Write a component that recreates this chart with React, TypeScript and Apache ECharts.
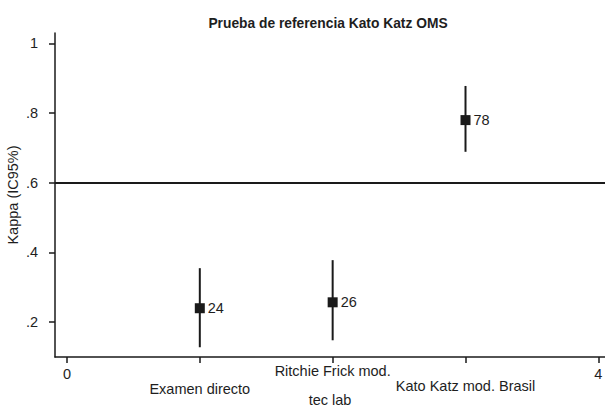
import React, { useEffect, useRef } from "react";
import * as echarts from "echarts";

const categories = ["Examen directo", "Ritchie Frick mod.", "Kato Katz mod. Brasil"];
const categoryPositions = [1, 2, 3];
const kappa = [0.24, 0.257, 0.78];
const ciLow = [0.128, 0.148, 0.689];
const ciHigh = [0.355, 0.378, 0.878];
const xTickValues = [0, 1, 2, 3, 4];
const xTickLabels = ["0", "Examen directo", "Ritchie Frick mod.", "Kato Katz mod. Brasil", "4"];
const yTickValues = [0.2, 0.4, 0.6, 0.8, 1];
const referenceValue = 0.6;

const INK = "#1a1a1a";
const TXT = "#1e1e1e";
const FONT = "Liberation Sans, Arial, sans-serif";

export default function App() {
  const ref = useRef<HTMLDivElement>(null);
  useEffect(() => {
    if (!ref.current) return;
    const chart = echarts.init(ref.current, undefined, { renderer: "svg" });
    const richKeys = ["t0", "t1", "t2", "t3", "t4"];
    const padTop = [3, 18, 0, 15, 3];
    const rich: any = {};
    richKeys.forEach((k, i) => {
      rich[k] = { fontSize: 14.5, color: TXT, fontFamily: FONT, padding: [padTop[i], 0, 0, 0] };
    });
    chart.setOption({
      animation: false,
      backgroundColor: "#ffffff",
      title: {
        text: "Prueba de referencia Kato Katz OMS",
        left: 323,
        top: 11,
        textAlign: "center",
        textStyle: { fontSize: 13.8, fontWeight: "bold", color: TXT, fontFamily: FONT },
      },
      grid: { left: 55, right: 0, top: 33, bottom: 52, containLabel: false, outerBoundsMode: "none" },
      xAxis: {
        type: "value",
        min: -0.09,
        max: 4.05,
        name: "tec lab",
        nameLocation: "middle",
        nameGap: 35,
        nameMoveOverlap: false,
        nameTextStyle: { fontSize: 14.5, color: TXT, fontFamily: FONT },
        axisLine: { show: true, onZero: false, lineStyle: { color: INK, width: 1.5 } },
        axisTick: { show: true, customValues: xTickValues, length: 6, lineStyle: { color: INK, width: 1.5 } },
        axisLabel: {
          customValues: xTickValues,
          margin: 6,
          formatter: (v: number) => {
            const i = xTickValues.indexOf(Math.round(v));
            return i >= 0 ? `{${richKeys[i]}|${xTickLabels[i]}}` : "";
          },
          rich,
        },
        splitLine: { show: false },
      },
      yAxis: {
        type: "value",
        min: 0.1,
        max: 1.03,
        name: "Kappa (IC95%)",
        nameLocation: "middle",
        nameGap: 35,
        nameMoveOverlap: false,
        nameRotate: 90,
        nameTextStyle: { fontSize: 14.5, color: TXT, fontFamily: FONT },
        axisLine: { show: true, onZero: false, lineStyle: { color: INK, width: 1.5 } },
        axisTick: { show: true, customValues: yTickValues, length: 6, lineStyle: { color: INK, width: 1.5 } },
        axisLabel: {
          customValues: yTickValues,
          margin: 17,
          fontSize: 14.5,
          color: TXT,
          fontFamily: FONT,
          formatter: (v: number) => {
            const r = Math.round(v * 10) / 10;
            return r >= 1 ? String(r) : String(r).replace(/^0/, "");
          },
        },
        splitLine: { show: false },
      },
      series: [
        {
          type: "custom",
          name: "IC95%",
          data: categoryPositions.map((x, i) => [x, ciLow[i], ciHigh[i]]),
          encode: { x: 0, y: [1, 2] },
          renderItem: (params: any, api: any) => {
            const x = api.value(0);
            const lo = api.coord([x, api.value(1)]);
            const hi = api.coord([x, api.value(2)]);
            return {
              type: "line",
              shape: { x1: lo[0], y1: lo[1], x2: hi[0], y2: hi[1] },
              style: { stroke: INK, lineWidth: 2 },
            };
          },
          z: 2,
        },
        {
          type: "scatter",
          name: "Kappa",
          data: categoryPositions.map((x, i) => ({ value: [x, kappa[i]], name: categories[i] })),
          symbol: "rect",
          symbolSize: 10,
          itemStyle: { color: INK, opacity: 1 },
          label: {
            show: true,
            position: "right",
            distance: 3,
            fontSize: 14.5,
            color: TXT,
            fontFamily: FONT,
            formatter: (p: any) => String(Math.round(p.value[1] * 100)),
          },
          markLine: {
            silent: true,
            symbol: "none",
            label: { show: false },
            lineStyle: { color: INK, width: 2, type: "solid" },
            data: [{ yAxis: referenceValue }],
          },
          z: 3,
        },
      ],
    });
    return () => chart.dispose();
  }, []);
  return (
    <div
      ref={ref}
      style={{ position: "fixed", left: 0, top: 0, width: 605, height: 409 }}
    />
  );
}
